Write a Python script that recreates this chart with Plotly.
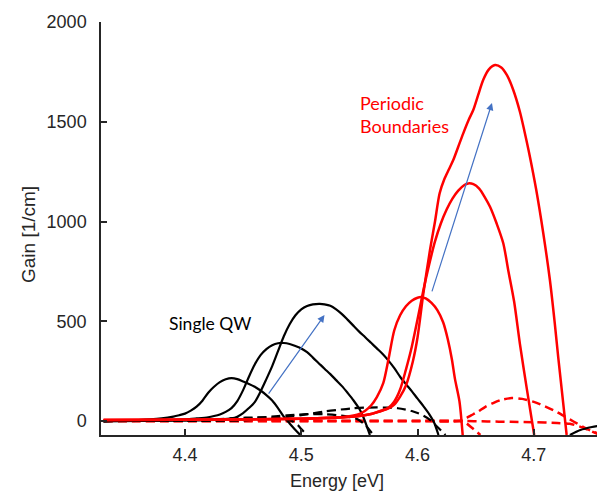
import plotly.graph_objects as go

# ---- data ----
# Single QW, solid (black)
s1_x = [4.33, 4.35, 4.36, 4.37, 4.38, 4.39, 4.395, 4.40, 4.405, 4.41, 4.415, 4.42, 4.425, 4.43, 4.435, 4.44,
        4.445, 4.45, 4.455, 4.46, 4.465, 4.47, 4.475, 4.48, 4.485, 4.49, 4.495, 4.50]
s1_y = [1, 3, 5, 8, 13, 22, 29, 37, 52, 72, 102, 142, 172, 195, 209, 215,
        210, 198, 186, 172, 153, 130, 103, 65, 22, -12, -45, -75]
s2_x = [4.33, 4.36, 4.38, 4.40, 4.41, 4.42, 4.425, 4.43, 4.435, 4.44, 4.445, 4.45, 4.455, 4.46, 4.465,
        4.47, 4.475, 4.48, 4.485, 4.49, 4.495, 4.50, 4.505, 4.51, 4.515, 4.52, 4.525, 4.53, 4.535, 4.54,
        4.545, 4.55, 4.553, 4.556, 4.559]
s2_y = [0, 1, 3, 8, 13, 19, 25, 33, 46, 65, 100, 155, 222, 283, 330,
        360, 380, 390, 391, 386, 376, 364, 345, 318, 290, 262, 235, 205, 175, 140,
        103, 60, 25, -20, -70]
s3_x = [4.33, 4.40, 4.42, 4.43, 4.44, 4.445, 4.45, 4.455, 4.46, 4.465, 4.47, 4.475, 4.48, 4.485, 4.49,
        4.495, 4.50, 4.505, 4.51, 4.516, 4.52, 4.525, 4.53, 4.535, 4.54, 4.545, 4.55, 4.555, 4.56, 4.565,
        4.57, 4.575, 4.58, 4.585, 4.59, 4.595, 4.60, 4.605, 4.61, 4.614, 4.618]
s3_y = [0, 2, 4, 7, 13, 22, 40, 65, 95, 148, 210, 275, 350, 425, 485,
        530, 560, 577, 585, 587, 585, 578, 560, 536, 507, 477, 447, 420, 392, 364,
        336, 303, 265, 222, 185, 150, 112, 75, 35, -5, -70]
s4_x = [4.731, 4.74, 4.75, 4.76]
s4_y = [-70, -45, -30, -20]

# Single QW, dashed (black)
d1_x = [4.33, 4.40, 4.42, 4.43, 4.445, 4.46, 4.47, 4.48, 4.487, 4.492, 4.497, 4.50, 4.505]
d1_y = [0, 3, 6, 10, 15, 18, 18, 15, 8, 0, -20, -40, -70]
d2_x = [4.33, 4.42, 4.44, 4.45, 4.465, 4.48, 4.495, 4.51, 4.52, 4.53, 4.54, 4.548, 4.555, 4.562]
d2_y = [0, 2, 6, 10, 17, 25, 31, 35, 34, 30, 22, 10, -20, -70]
d3_x = [4.33, 4.40, 4.45, 4.47, 4.48, 4.49, 4.50, 4.51, 4.52, 4.53, 4.543, 4.555, 4.565, 4.575, 4.583,
        4.59, 4.595, 4.60, 4.605, 4.611, 4.614, 4.618, 4.624]
d3_y = [0, 1, 3, 10, 15, 22, 30, 39, 48, 55, 63, 67, 68, 67, 64,
        57, 50, 40, 27, 5, -12, -35, -70]

# Periodic boundaries, solid (red)
ra_x = [4.33, 4.40, 4.45, 4.50, 4.52, 4.53, 4.54, 4.545, 4.55, 4.555, 4.56, 4.565, 4.5705, 4.575, 4.58,
        4.585, 4.59, 4.595, 4.60, 4.603, 4.607, 4.612, 4.617, 4.622, 4.626, 4.6295, 4.6322, 4.636, 4.6388]
ra_y = [5, 7, 9, 12, 15, 18, 23, 28, 36, 52, 78, 120, 190, 310, 455,
        530, 575, 603, 618, 621, 615, 592, 556, 495, 410, 310, 210, 100, -70]
rb_x = [4.33, 4.45, 4.50, 4.52, 4.54, 4.55, 4.56, 4.565, 4.57, 4.575, 4.58, 4.585, 4.59, 4.595, 4.60,
        4.605, 4.61, 4.615, 4.62, 4.625, 4.63, 4.635, 4.64, 4.6436, 4.648, 4.653, 4.658, 4.6623, 4.668,
        4.6737, 4.678, 4.683, 4.688, 4.694, 4.7003]
rb_y = [5, 8, 12, 15, 20, 25, 35, 44, 54, 66, 98, 158, 258, 371, 510,
        655, 785, 900, 990, 1060, 1115, 1155, 1182, 1191, 1187, 1165, 1120, 1074, 990,
        891, 755, 600, 387, 160, -70]
rc_x = [4.33, 4.45, 4.50, 4.52, 4.54, 4.55, 4.56, 4.565, 4.57, 4.575, 4.58, 4.585, 4.59, 4.596, 4.60,
        4.605, 4.6107, 4.615, 4.619, 4.623, 4.627, 4.6307, 4.635, 4.6393, 4.644, 4.6479, 4.652, 4.6565,
        4.661, 4.6666, 4.672, 4.677, 4.6823, 4.688, 4.692, 4.6966, 4.702, 4.7081, 4.7138, 4.718, 4.721,
        4.7282]
rc_y = [5, 8, 12, 15, 20, 25, 35, 44, 53, 63, 82, 122, 178, 300, 420,
        640, 857, 1000, 1142, 1212, 1262, 1308, 1375, 1442, 1510, 1559, 1632, 1710,
        1760, 1784, 1772, 1732, 1659, 1550, 1450, 1325, 1160, 941, 707, 490, 318,
        -70]

# Periodic boundaries, dashed (red)
r1_x = [4.33, 4.50, 4.60, 4.635, 4.641, 4.647, 4.654]
r1_y = [0, 0, 0, 0, -8, -35, -70]
r2_x = [4.33, 4.50, 4.60, 4.64, 4.66, 4.68, 4.70, 4.72, 4.731, 4.7396, 4.747, 4.755]
r2_y = [0, 0, 0, 0, -2, -4, -6, -10, -14, -28, -45, -65]
r3_x = [4.33, 4.50, 4.60, 4.635, 4.641, 4.646, 4.652, 4.658, 4.665, 4.672, 4.681, 4.69, 4.70, 4.71, 4.72,
        4.726, 4.731, 4.737, 4.743, 4.749, 4.755]
r3_y = [0, 0, 0, 0, 12, 28, 47, 70, 90, 106, 115, 111, 96, 72, 45,
        25, 8, -12, -32, -48, -62]

x_ticks = [4.4, 4.5, 4.6, 4.7]
y_ticks = [0, 500, 1000, 1500, 2000]

fig = go.Figure()

def add(x, y, color, dash, width):
    fig.add_trace(go.Scatter(x=x, y=y, mode="lines",
                             line=dict(color=color, dash=dash, width=width, shape="spline", smoothing=0.8),
                             hoverinfo="skip", showlegend=False, cliponaxis=True))

DASH = "9px,5px"
for x, y in [(r1_x, r1_y), (r2_x, r2_y), (r3_x, r3_y)]:
    add(x, y, "#ff0000", DASH, 2.5)
for x, y in [(d1_x, d1_y), (d2_x, d2_y), (d3_x, d3_y)]:
    add(x, y, "#000000", DASH, 2.2)
for x, y in [(s1_x, s1_y), (s2_x, s2_y), (s3_x, s3_y), (s4_x, s4_y)]:
    add(x, y, "#000000", "solid", 2.2)
for x, y in [(ra_x, ra_y), (rb_x, rb_y), (rc_x, rc_y)]:
    add(x, y, "#ff0000", "solid", 2.5)

axis_col = "#262626"
tick_font = dict(family="Liberation Sans, Arial, sans-serif", size=18, color=axis_col)

fig.update_layout(
    width=597, height=493,
    margin=dict(l=101, r=0, t=22, b=58),
    plot_bgcolor="white", paper_bgcolor="white",
    xaxis=dict(range=[4.3278, 4.7543], tickvals=x_ticks, ticktext=[f"{v:.1f}" for v in x_ticks],
               ticks="inside", ticklen=6, tickwidth=1.5, tickcolor=axis_col, ticklabelstandoff=3,
               showline=True, linecolor=axis_col, linewidth=1.5, showgrid=False, zeroline=False,
               tickfont=tick_font),
    yaxis=dict(range=[-70, 2000], tickvals=y_ticks, ticktext=[str(v) for v in y_ticks],
               ticks="inside", ticklen=6, tickwidth=1.5, tickcolor=axis_col, ticklabelstandoff=9,
               showline=True, linecolor=axis_col, linewidth=1.5, showgrid=False, zeroline=False,
               tickfont=tick_font),
)

# axis titles
fig.add_annotation(text="Gain [1/cm]", xref="paper", yref="paper",
                   x=(28 - 101) / 496, y=(435 - 235) / 413, textangle=-90, showarrow=False,
                   font=dict(family="Liberation Sans, Arial, sans-serif", size=19, color=axis_col),
                   xanchor="center", yanchor="middle")
fig.add_annotation(text="Energy [eV]", xref="paper", yref="paper",
                   x=(337 - 101) / 496, y=-(481 - 435) / 413, showarrow=False,
                   font=dict(family="Liberation Sans, Arial, sans-serif", size=18, color=axis_col),
                   xanchor="center", yanchor="middle")

# labels
fig.add_annotation(text="Single QW", x=4.4215, y=491, xref="x", yref="y", showarrow=False,
                   font=dict(family="Lato, sans-serif", size=17.5, color="black"))
fig.add_annotation(text="Periodic<br>Boundaries", x=4.5485, y=1534, xref="x", yref="y", showarrow=False,
                   xanchor="left", align="left",
                   font=dict(family="Lato, sans-serif", size=18, color="#ff0000"))

# arrows
arrow_col = "#4472c4"
for (x0, y0, x1, y1) in [(4.471, 130, 4.520, 531), (4.612, 642, 4.664, 1594)]:
    fig.add_annotation(x=x1, y=y1, ax=x0, ay=y0, xref="x", yref="y", axref="x", ayref="y",
                       text="", showarrow=True, arrowhead=2, arrowsize=1.2, arrowwidth=1.2,
                       arrowcolor=arrow_col)

fig.write_html("out.html")
